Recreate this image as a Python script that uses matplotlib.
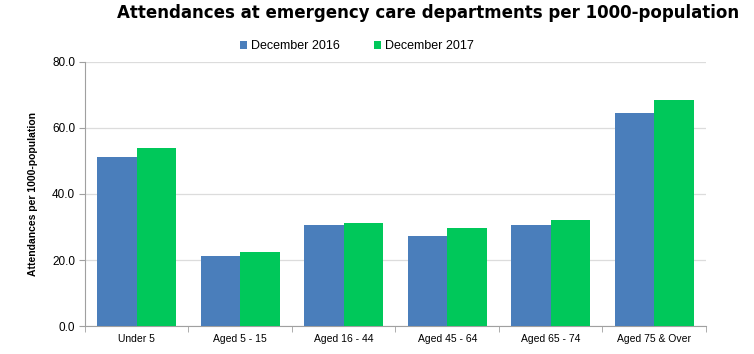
import matplotlib.pyplot as plt
import numpy as np

categories = ["Under 5", "Aged 5 - 15", "Aged 16 - 44", "Aged 45 - 64", "Aged 65 - 74", "Aged 75 & Over"]
dec_2016 = [51.3, 21.2, 30.5, 27.2, 30.5, 64.4]
dec_2017 = [53.9, 22.3, 31.3, 29.6, 32.2, 68.6]
y_ticks = [0, 20, 40, 60, 80]

blue = "#4a7ebb"
green = "#00c85a"

fig = plt.figure(figsize=(7.54, 3.54), dpi=100)
ax = fig.add_axes([0.1127, 0.079, 0.8236, 0.746])

x = np.arange(len(categories))
w = 0.38
ax.bar(x - w / 2, dec_2016, w, color=blue, label="December 2016", zorder=3)
ax.bar(x + w / 2, dec_2017, w, color=green, label="December 2017", zorder=3)

ax.set_xlim(-0.5, len(categories) - 0.5)
ax.set_ylim(0, 80)
ax.set_yticks(y_ticks)
ax.set_yticklabels([f"{v:.1f}" for v in y_ticks], fontsize=8.5, family="Liberation Sans")
ax.set_xticks(x)
ax.set_xticklabels(categories, fontsize=7.5, family="Liberation Sans")
ax.tick_params(axis="x", length=0, pad=6)
ax.set_xticks(np.arange(len(categories) + 1) - 0.5, minor=True)
ax.tick_params(axis="x", which="minor", length=4, color="#a0a0a0")
ax.tick_params(axis="y", length=4, color="#a0a0a0", pad=3)
ax.yaxis.grid(True, color="#dcdcdc", linewidth=0.9, zorder=0)

for side in ["top", "right"]:
    ax.spines[side].set_visible(False)
for side in ["left", "bottom"]:
    ax.spines[side].set_color("#a0a0a0")

ax.set_ylabel("Attendances per 1000-population", fontsize=7.5, fontweight="bold",
              family="Liberation Sans", labelpad=10)

fig.text(0.568, 0.962, "Attendances at emergency care departments per 1000-population",
         ha="center", va="center", fontsize=12, fontweight="bold", family="DejaVu Sans")

fig.legend(loc="center", bbox_to_anchor=(0.473, 0.87), ncol=2, frameon=False,
           prop={"family": "Liberation Sans", "size": 9},
           handlelength=0.6, handleheight=0.6, handletextpad=0.3, columnspacing=2.7)

plt.savefig("out.png", dpi=100)
